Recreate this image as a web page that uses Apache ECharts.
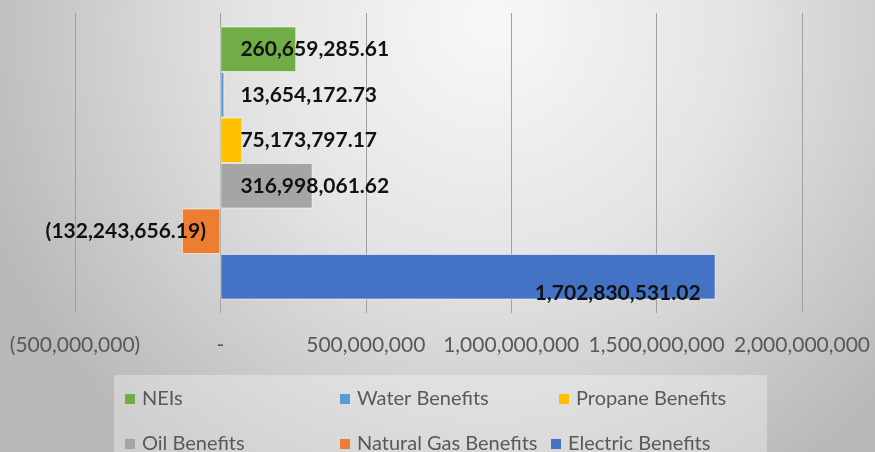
<!DOCTYPE html>
<html>
<head>
<meta charset="utf-8">
<script src="https://cdn.jsdelivr.net/npm/echarts@6/dist/echarts.min.js"></script>
<style>
html,body{margin:0;padding:0;background:#fff;}
#chart{width:875px;height:452px;}
</style>
</head>
<body>
<div id="chart"></div>
<script>
// ---- data ----
var seriesNames = ['NEIs', 'Water Benefits', 'Propane Benefits', 'Oil Benefits', 'Natural Gas Benefits', 'Electric Benefits'];
var seriesValues = [260659285.61, 13654172.73, 75173797.17, 316998061.62, -132243656.19, 1702830531.02];
var seriesColors = ['#70ad47', '#5b9bd5', '#ffc000', '#a5a5a5', '#ed7d31', '#4472c4'];
var categories = [''];
var axisMin = -500000000, axisMax = 2000000000, axisStep = 500000000;

function fmtNum(v, dec) {
  var a = Math.abs(v);
  var s = a.toLocaleString('en-US', {minimumFractionDigits: dec, maximumFractionDigits: dec});
  return v < 0 ? '(' + s + ')' : s;
}
function fmtAxis(v) {
  if (v === 0) return '-';
  return fmtNum(v, 0);
}

var FONT = 'Lato';
var labelBase = {show: true, fontFamily: FONT, fontWeight: 'bold', fontSize: 21, color: '#111'};
var labelCfg = [
  Object.assign({position: 'insideLeft', distance: 20}, labelBase),
  Object.assign({position: 'insideLeft', distance: 20}, labelBase),
  Object.assign({position: 'insideLeft', distance: 20}, labelBase),
  Object.assign({position: 'insideLeft', distance: 20}, labelBase),
  Object.assign({position: 'left', distance: 0, offset: [24, 0]}, labelBase),
  Object.assign({position: ['100%', '100%'], align: 'right', verticalAlign: 'bottom', offset: [-15, 4]}, labelBase)
];

var series = seriesNames.map(function (name, i) {
  return {
    name: name,
    type: 'bar',
    data: [seriesValues[i]],
    barGap: '0%',
    barCategoryGap: '9%',
    itemStyle: {color: seriesColors[i], borderColor: 'rgba(255,255,255,0.55)', borderWidth: 1},
    label: Object.assign({formatter: function (p) { return fmtNum(p.value, 2); }}, labelCfg[i])
  };
});

// legend positions (marker left, row top)
var legendPos = [[125, 389], [340, 389], [559, 389], [125, 434], [340, 434], [551, 434]];
var legends = seriesNames.map(function (name, i) {
  return {
    data: [name],
    left: legendPos[i][0],
    top: legendPos[i][1],
    itemWidth: 10,
    itemHeight: 10,
    icon: 'rect',
    padding: 0,
    selectedMode: false,
    itemStyle: {borderWidth: 0},
    textStyle: {fontFamily: FONT, fontSize: 20, color: '#595959', padding: [0, 0, 0, 2]}
  };
});

var chart = echarts.init(document.getElementById('chart'), null, {renderer: 'canvas'});
chart.setOption({
  animation: false,
  backgroundColor: {
    type: 'radial', x: 0.56, y: 0.05, r: 1.2,
    colorStops: [
      {offset: 0, color: '#f8f8f8'},
      {offset: 0.45, color: '#e4e4e4'},
      {offset: 1, color: '#b8b8b8'}
    ]
  },
  graphic: [{
    type: 'rect', left: 114, top: 375, z: -1,
    shape: {width: 653, height: 80},
    style: {fill: 'rgba(255,255,255,0.32)'}
  }],
  legend: legends,
  grid: {left: 75, right: 73, top: 13, bottom: 139, containLabel: false},
  xAxis: {
    type: 'value',
    min: axisMin, max: axisMax, interval: axisStep,
    axisLine: {show: false},
    axisTick: {show: false},
    splitLine: {show: true, lineStyle: {color: '#a0a0a0', width: 1}},
    axisLabel: {fontFamily: FONT, fontSize: 21, color: '#595959', margin: 22, formatter: fmtAxis}
  },
  yAxis: {
    type: 'category',
    data: categories,
    inverse: true,
    axisLine: {show: false},
    axisTick: {show: false},
    axisLabel: {show: false},
    splitLine: {show: false}
  },
  series: series
});
</script>
</body>
</html>
